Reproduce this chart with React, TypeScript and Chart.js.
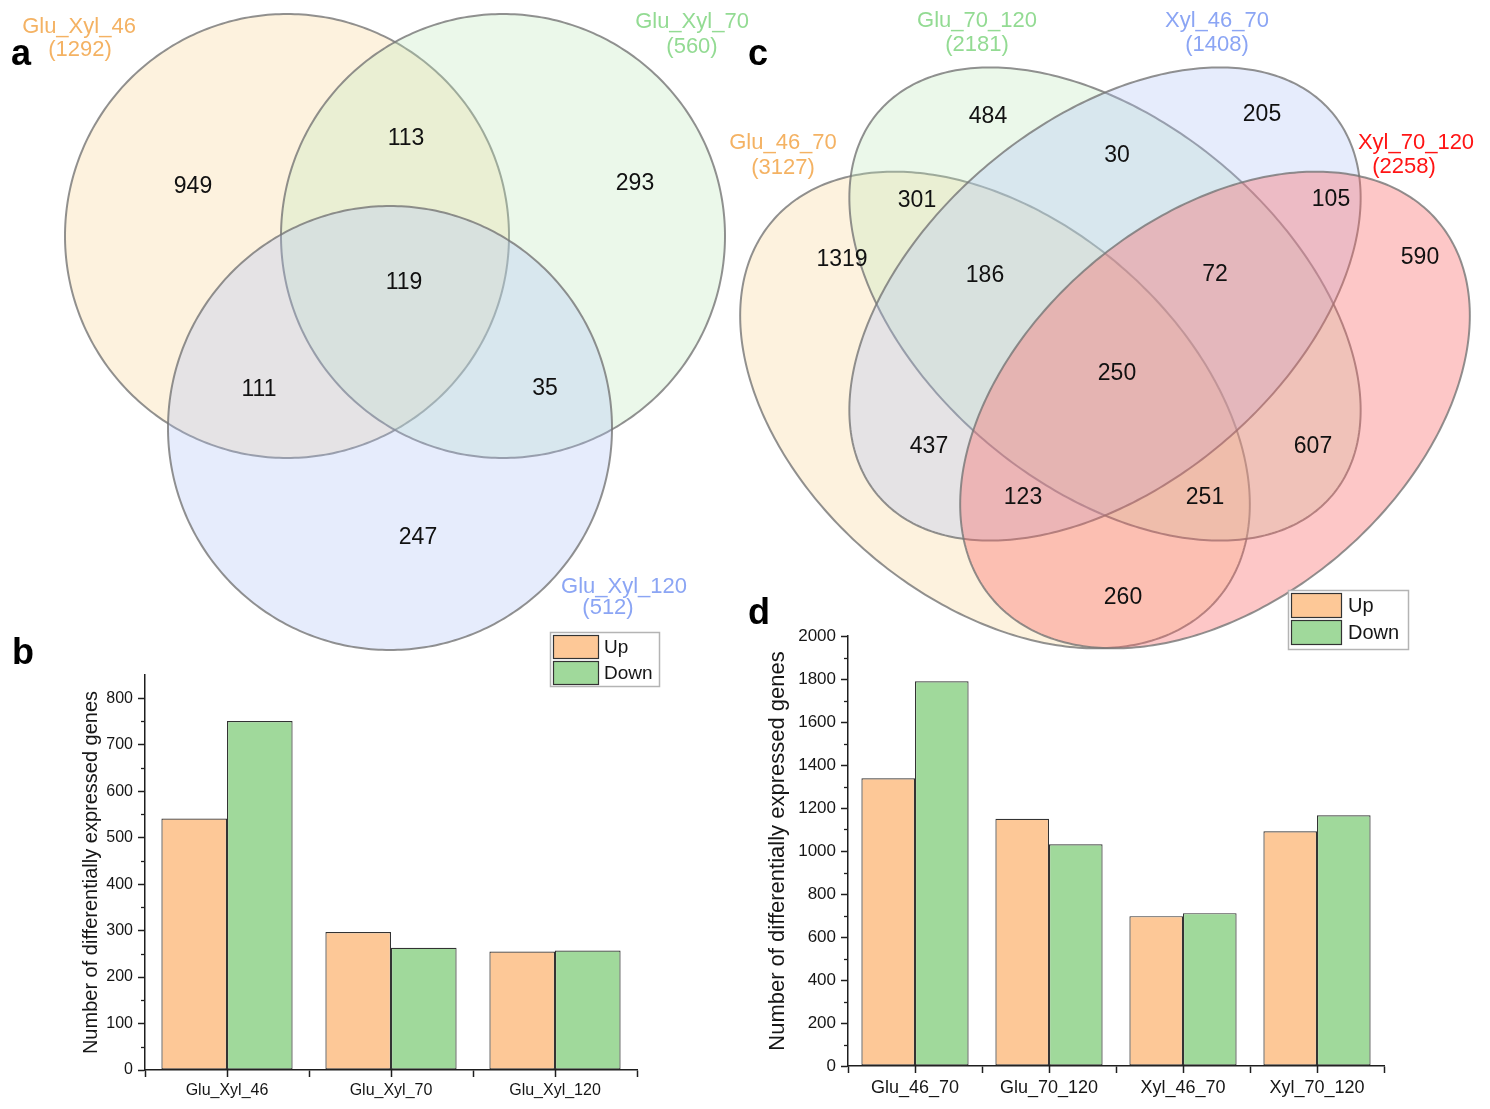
import React, { useEffect, useRef } from "react";
import { Chart, registerables } from "chart.js";

Chart.register(...registerables);

const FONT = '"Liberation Sans", Arial, Helvetica, sans-serif';
const TEXT = "#161616";
const AXIS = "#1e1e1e";

// ---------------- data ----------------
// Panel a: three-set Venn
const vennASetNames = ["Glu_Xyl_46", "Glu_Xyl_70", "Glu_Xyl_120"];
const vennASetTotals = [1292, 560, 512];
const vennARegionKeys = ["A", "B", "C", "AB", "AC", "BC", "ABC"];
const vennARegionCounts = [949, 293, 247, 113, 111, 35, 119];

// Panel c: four-set Venn
const vennCSetNames = ["Glu_46_70", "Glu_70_120", "Xyl_46_70", "Xyl_70_120"];
const vennCSetTotals = [3127, 2181, 1408, 2258];
const vennCRegionKeys = ["A", "B", "C", "D", "AB", "BC", "CD", "AD", "ABC", "BCD", "ABCD", "AC", "BD", "ACD", "ABD"];
const vennCRegionCounts = [1319, 484, 205, 590, 301, 30, 105, 260, 186, 72, 250, 437, 607, 123, 251];

// Panels b and d: bar charts
const barSeriesNames = ["Up", "Down"];
const barBCategories = ["Glu_Xyl_46", "Glu_Xyl_70", "Glu_Xyl_120"];
const barBUp = [541, 297, 255];
const barBDown = [751, 263, 257];
const barDCategories = ["Glu_46_70", "Glu_70_120", "Xyl_46_70", "Xyl_70_120"];
const barDUp = [1338, 1150, 697, 1092];
const barDDown = [1789, 1031, 711, 1166];

// ---------------- layout (Venn coordinate space, px units) ----------------
const vennAShapes = [
  { cx: 287, cy: 236, rx: 222, ry: 222, rot: 0 },
  { cx: 503, cy: 236, rx: 222, ry: 222, rot: 0 },
  { cx: 390, cy: 428, rx: 222, ry: 222, rot: 0 },
];
const vennARegionPos = [[193, 187], [635, 184], [418, 538], [406, 139], [259, 390], [545, 389], [404, 283]];
const vennASetLabelPos = [[[79, 27], [80, 50]], [[692, 22], [692, 47]], [[624, 587], [608, 608]]];

const vennCShapes = [
  { cx: 995, cy: 410, rx: 292, ry: 191, rot: 40.2 },
  { cx: 1105, cy: 304, rx: 297, ry: 182, rot: 40.1 },
  { cx: 1105, cy: 304, rx: 297, ry: 182, rot: -40.1 },
  { cx: 1215, cy: 410, rx: 292, ry: 191, rot: -40.2 },
];
const vennCRegionPos = [
  [842, 260], [988, 117], [1262, 115], [1420, 258], [917, 201], [1117, 156], [1331, 200], [1123, 598],
  [985, 276], [1215, 275], [1117, 374], [929, 447], [1313, 447], [1023, 498], [1205, 498],
];
const vennCSetLabelPos = [
  [[783, 143], [783, 168]],
  [[977, 21], [977, 45]],
  [[1217, 21], [1217, 45]],
  [[1416, 143], [1404, 167]],
];

const FILL_ORANGE = "rgba(248,212,145,0.30)";
const FILL_GREEN = "rgba(190,232,185,0.30)";
const FILL_BLUE = "rgba(172,192,245,0.30)";
const FILL_RED = "rgba(250,100,100,0.36)";
const LBL_ORANGE = "#F4B263";
const LBL_GREEN = "#93DB93";
const LBL_BLUE = "#8BA5F4";
const LBL_RED = "#FF1414";

const UP_COLOR = "#FDC897";
const DOWN_COLOR = "#A0D99B";

type Shape = { cx: number; cy: number; rx: number; ry: number; rot: number };

function VennPanel(props: {
  left: number; top: number; width: number; height: number; xMin: number; yMin: number;
  shapes: Shape[]; fills: string[]; labelColors: string[];
  setNames: string[]; setTotals: number[]; setLabelPos: number[][][];
  regionKeys: string[]; regionCounts: number[]; regionPos: number[][];
}) {
  const ref = useRef<HTMLCanvasElement>(null);
  useEffect(() => {
    const p = props;
    const vennPlugin = {
      id: "vennShapes",
      beforeDatasetsDraw(chart: any) {
        const ctx = chart.ctx;
        const xs = chart.scales.x;
        const ys = chart.scales.y;
        p.shapes.forEach((s, i) => {
          ctx.save();
          ctx.beginPath();
          const N = 360;
          const r = (s.rot * Math.PI) / 180;
          for (let k = 0; k <= N; k++) {
            const t = (k / N) * 2 * Math.PI;
            const lx = s.rx * Math.cos(t);
            const ly = s.ry * Math.sin(t);
            const x = s.cx + lx * Math.cos(r) - ly * Math.sin(r);
            const y = s.cy + lx * Math.sin(r) + ly * Math.cos(r);
            const px = xs.getPixelForValue(x);
            const py = ys.getPixelForValue(y);
            if (k === 0) ctx.moveTo(px, py);
            else ctx.lineTo(px, py);
          }
          ctx.closePath();
          ctx.fillStyle = p.fills[i];
          ctx.fill();
          ctx.strokeStyle = "rgba(118,118,118,0.8)";
          ctx.lineWidth = 2;
          ctx.stroke();
          ctx.restore();
        });
      },
      afterDatasetsDraw(chart: any) {
        const ctx = chart.ctx;
        const xs = chart.scales.x;
        const ys = chart.scales.y;
        const meta = chart.getDatasetMeta(0);
        ctx.save();
        ctx.textAlign = "center";
        ctx.textBaseline = "middle";
        ctx.font = `23px ${FONT}`;
        ctx.fillStyle = "#111";
        meta.data.forEach((el: any, i: number) => {
          ctx.fillText(String(p.regionCounts[i]), el.x, el.y);
        });
        p.setNames.forEach((name, i) => {
          const [p1, p2] = p.setLabelPos[i];
          ctx.fillStyle = p.labelColors[i];
          ctx.font = `22px ${FONT}`;
          ctx.fillText(name, xs.getPixelForValue(p1[0]), ys.getPixelForValue(p1[1]));
          ctx.fillText(`(${p.setTotals[i]})`, xs.getPixelForValue(p2[0]), ys.getPixelForValue(p2[1]));
        });
        ctx.restore();
      },
    };
    const chart = new Chart(ref.current as HTMLCanvasElement, {
      type: "scatter",
      data: {
        datasets: [
          {
            label: "regions",
            data: p.regionPos.map((q, i) => ({ x: q[0], y: q[1], key: p.regionKeys[i] })) as any,
            pointRadius: 0,
            pointHoverRadius: 0,
          },
        ],
      },
      options: {
        responsive: false,
        animation: false,
        events: [],
        layout: { padding: 0 },
        scales: {
          x: { type: "linear", display: false, min: p.xMin, max: p.xMin + p.width },
          y: { type: "linear", display: false, min: p.yMin, max: p.yMin + p.height, reverse: true },
        },
        plugins: { legend: { display: false }, tooltip: { enabled: false } },
      },
      plugins: [vennPlugin],
    } as any);
    return () => chart.destroy();
  }, []);
  return (
    <canvas
      ref={ref}
      width={props.width}
      height={props.height}
      style={{ position: "absolute", left: props.left, top: props.top, width: props.width, height: props.height }}
    />
  );
}

type LegendSpec = { x: number; y: number; w: number; h: number; boxW: number; boxH: number; gap: number; textX: number; size: number };

function BarPanel(props: {
  left: number; top: number; width: number; height: number;
  categories: string[]; up: number[]; down: number[];
  yMax: number; yStep: number; yMinor: number;
  padTop: number; padRight: number; yAxisW: number; xAxisH: number;
  tickSize: number; xTickSize: number; titleSize: number; titlePad: number;
  legend: LegendSpec;
}) {
  const ref = useRef<HTMLCanvasElement>(null);
  useEffect(() => {
    const p = props;
    const extras = {
      id: "barExtras",
      afterDraw(chart: any) {
        const ctx = chart.ctx;
        const xs = chart.scales.x;
        const ys = chart.scales.y;
        const area = chart.chartArea;
        ctx.save();
        ctx.strokeStyle = AXIS;
        ctx.lineWidth = 1.3;
        // minor ticks on y
        for (let v = p.yMinor; v < p.yMax; v += p.yMinor) {
          if (v % p.yStep === 0) continue;
          const py = Math.round(ys.getPixelForValue(v)) + 0.5;
          ctx.beginPath();
          ctx.moveTo(area.left, py);
          ctx.lineTo(area.left - 4, py);
          ctx.stroke();
        }
        // ticks at category centres
        ctx.lineWidth = 1.5;
        p.categories.forEach((_, i) => {
          const px = Math.round(xs.getPixelForValue(i)) + 0.5;
          ctx.beginPath();
          ctx.moveTo(px, area.bottom);
          ctx.lineTo(px, area.bottom + 7);
          ctx.stroke();
        });
        // legend
        const L = p.legend;
        ctx.fillStyle = "#ffffff";
        ctx.fillRect(L.x, L.y, L.w, L.h);
        ctx.strokeStyle = "#b4b4b4";
        ctx.lineWidth = 1.5;
        ctx.strokeRect(L.x + 0.5, L.y + 0.5, L.w, L.h);
        chart.data.datasets.forEach((ds: any, i: number) => {
          const by = L.y + 3 + i * (L.boxH + L.gap);
          ctx.fillStyle = ds.backgroundColor;
          ctx.fillRect(L.x + 3, by, L.boxW, L.boxH);
          ctx.strokeStyle = "#333";
          ctx.lineWidth = 1.2;
          ctx.strokeRect(L.x + 3.5, by + 0.5, L.boxW, L.boxH);
          ctx.fillStyle = TEXT;
          ctx.font = `${L.size}px ${FONT}`;
          ctx.textAlign = "left";
          ctx.textBaseline = "middle";
          ctx.fillText(ds.label, L.textX, by + L.boxH / 2 + 1);
        });
        ctx.restore();
      },
    };
    const chart = new Chart(ref.current as HTMLCanvasElement, {
      type: "bar",
      data: {
        labels: p.categories,
        datasets: [
          { label: barSeriesNames[0], data: p.up, backgroundColor: UP_COLOR, borderColor: "#333333", borderWidth: 1.2, borderSkipped: false },
          { label: barSeriesNames[1], data: p.down, backgroundColor: DOWN_COLOR, borderColor: "#333333", borderWidth: 1.2, borderSkipped: false },
        ],
      },
      options: {
        responsive: false,
        animation: false,
        events: [],
        layout: { padding: { top: p.padTop, right: p.padRight, left: 0, bottom: 0 } },
        datasets: { bar: { categoryPercentage: 0.8, barPercentage: 1.0 } },
        plugins: { legend: { display: false }, tooltip: { enabled: false } },
        scales: {
          x: {
            grid: { offset: true, drawOnChartArea: false, drawTicks: true, tickLength: 7, tickColor: AXIS, tickWidth: 1.5 },
            border: { display: true, color: AXIS, width: 1.5 },
            ticks: { color: TEXT, font: { family: FONT, size: p.xTickSize }, padding: 4, maxRotation: 0, autoSkip: false },
            afterFit: (s: any) => { s.height = p.xAxisH; },
          },
          y: {
            min: 0,
            max: p.yMax,
            grid: { drawOnChartArea: false, drawTicks: true, tickLength: 7, tickColor: AXIS, tickWidth: 1.5 },
            border: { display: true, color: AXIS, width: 1.5 },
            ticks: {
              stepSize: p.yStep,
              includeBounds: false,
              color: TEXT,
              font: { family: FONT, size: p.tickSize },
              padding: 5,
              callback: (v: any) => String(v),
            },
            title: {
              display: true,
              text: "Number of differentially expressed genes",
              color: TEXT,
              font: { family: FONT, size: p.titleSize },
              padding: { top: p.titlePad, bottom: 0 },
            },
            afterFit: (s: any) => { s.width = p.yAxisW; },
          },
        },
      },
      plugins: [extras],
    } as any);
    return () => chart.destroy();
  }, []);
  return (
    <canvas
      ref={ref}
      width={props.width}
      height={props.height}
      style={{ position: "absolute", left: props.left, top: props.top, width: props.width, height: props.height }}
    />
  );
}

const letterStyle = (left: number, top: number): React.CSSProperties => ({
  position: "absolute",
  left,
  top,
  fontFamily: FONT,
  fontWeight: "bold",
  fontSize: 36,
  lineHeight: "36px",
  color: "#000",
});

export default function App() {
  return (
    <div style={{ position: "absolute", left: 0, top: 0, width: 1490, height: 1109, background: "#fff", overflow: "hidden" }}>
      <VennPanel
        left={0} top={0} width={770} height={660} xMin={0} yMin={0}
        shapes={vennAShapes}
        fills={[FILL_ORANGE, FILL_GREEN, FILL_BLUE]}
        labelColors={[LBL_ORANGE, LBL_GREEN, LBL_BLUE]}
        setNames={vennASetNames} setTotals={vennASetTotals} setLabelPos={vennASetLabelPos}
        regionKeys={vennARegionKeys} regionCounts={vennARegionCounts} regionPos={vennARegionPos}
      />
      <VennPanel
        left={720} top={0} width={770} height={660} xMin={720} yMin={0}
        shapes={vennCShapes}
        fills={[FILL_ORANGE, FILL_GREEN, FILL_BLUE, FILL_RED]}
        labelColors={[LBL_ORANGE, LBL_GREEN, LBL_BLUE, LBL_RED]}
        setNames={vennCSetNames} setTotals={vennCSetTotals} setLabelPos={vennCSetLabelPos}
        regionKeys={vennCRegionKeys} regionCounts={vennCRegionCounts} regionPos={vennCRegionPos}
      />
      <BarPanel
        left={0} top={620} width={680} height={489}
        categories={barBCategories} up={barBUp} down={barBDown}
        yMax={850} yStep={100} yMinor={50}
        padTop={55} padRight={43} yAxisW={145} xAxisH={39}
        tickSize={16} xTickSize={16} titleSize={20} titlePad={79}
        legend={{ x: 550, y: 12, w: 109, h: 54, boxW: 45, boxH: 23, gap: 3, textX: 604, size: 19 }}
      />
      <BarPanel
        left={740} top={580} width={700} height={529}
        categories={barDCategories} up={barDUp} down={barDDown}
        yMax={2000} yStep={200} yMinor={100}
        padTop={56} padRight={56} yAxisW={108} xAxisH={43}
        tickSize={17} xTickSize={18} titleSize={22} titlePad={25}
        legend={{ x: 548, y: 10, w: 120, h: 59, boxW: 50, boxH: 24, gap: 3, textX: 608, size: 20 }}
      />
      <div style={letterStyle(11, 35)}>a</div>
      <div style={letterStyle(12, 634)}>b</div>
      <div style={letterStyle(748, 35)}>c</div>
      <div style={letterStyle(748, 594)}>d</div>
    </div>
  );
}
